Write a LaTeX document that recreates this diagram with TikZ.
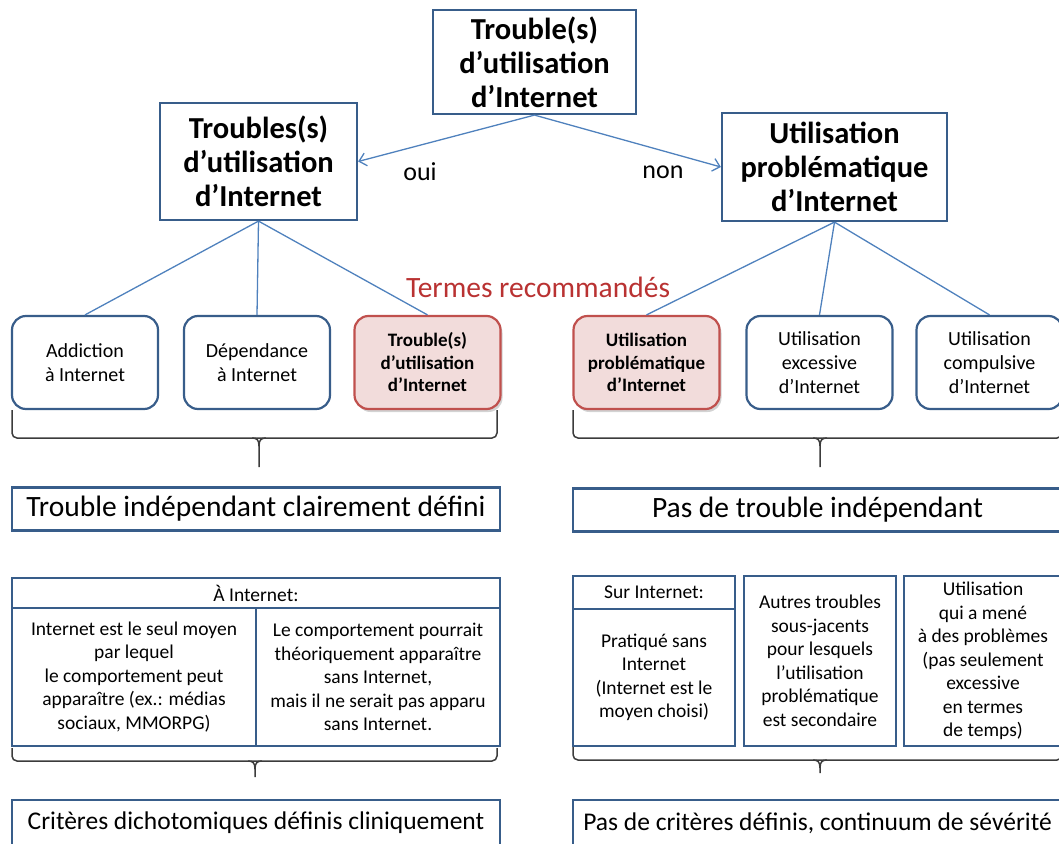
\documentclass[tikz,border=0pt]{standalone}
\usepackage{fontspec}
\setmainfont{Carlito}
\usepackage{tikz}
\usepackage{xcolor}
\usetikzlibrary{positioning, arrows.meta, shadows}

\definecolor{boxblue}{RGB}{56,93,138}
\definecolor{lineblue}{RGB}{79,129,189}
\definecolor{redfill}{RGB}{242,220,219}
\definecolor{redline}{RGB}{192,80,77}
\definecolor{redtext}{RGB}{185,50,50}
\definecolor{bracegray}{RGB}{60,60,60}

% brace: left x, right x, middle x, top y, bar y, tip y
\newcommand{\dbrace}[6]{%
  \draw[brace, rounded corners=5] (#1,#4) -- (#1,#5) -- (#2,#5) -- (#2,#4);
  \draw[brace] (#3-7,#5) .. controls (#3-2,#5) and (#3,#5+2) .. (#3,#5+8) -- (#3,#6);
  \draw[brace] (#3+7,#5) .. controls (#3+2,#5) and (#3,#5+2) .. (#3,#5+8);
}

\begin{document}
\begin{tikzpicture}[x=1pt, y=-1pt,
    headbox/.style={draw=boxblue, line width=2.2pt, align=center, inner sep=0pt,
      font=\fontsize{30.5}{34}\selectfont\bfseries},
    termbox/.style={draw=boxblue, line width=2.2pt, rounded corners=14pt, align=center,
      minimum width=146pt, minimum height=93pt, inner sep=0pt,
      font=\fontsize{20}{24}\selectfont},
    goodterm/.style={termbox, draw=redline, fill=redfill, font=\fontsize{19}{22.5}\selectfont\bfseries,
      drop shadow={opacity=0.35, shadow xshift=2pt, shadow yshift=-3pt}},
    wide/.style={draw=boxblue, line width=2.2pt, align=center, inner sep=0pt,
      minimum height=43pt, font=\fontsize{29.5}{32}\selectfont},
    crit/.style={wide, minimum height=46pt, font=\fontsize{25.5}{30}\selectfont},
    cell/.style={draw=boxblue, line width=2.2pt, align=center, inner sep=0pt,
      font=\fontsize{19.5}{23.5}\selectfont},
    link/.style={draw=lineblue, line width=1.3pt},
    brace/.style={draw=bracegray, line width=1.5pt}]
  \useasboundingbox (0,0) rectangle (1059,843);

  % top of the tree
  \node[headbox, minimum width=203pt, minimum height=104pt] (root) at (534.5,62)
    {Trouble(s)\\d’utilisation\\d’Internet};
  \node[headbox, minimum width=197pt, minimum height=117pt] (tuiL) at (258.5,161.5)
    {Troubles(s)\\d’utilisation\\d’Internet};
  \node[headbox, minimum width=225pt, minimum height=108pt] (upiL) at (834.5,167)
    {Utilisation\\problématique\\d’Internet};

  \draw[link, -{Straight Barb[length=7pt, width=13pt]}] (root.south) -- (tuiL.east);
  \draw[link, -{Straight Barb[length=7pt, width=13pt]}] (root.south) -- (upiL.west);
  \node[font=\fontsize{26}{30}\selectfont] (oui) at (420,172) {oui};
  \node[font=\fontsize{26}{30}\selectfont] (non) at (663,172) {non};

  % terms
  \node[termbox] (addict) at (85,362.5) {Addiction\\à Internet};
  \node[termbox] (depend) at (257,362.5) {Dépendance\\à Internet};
  \node[goodterm] (tuiS) at (427.5,362.5) {Trouble(s)\\d’utilisation\\d’Internet};
  \node[goodterm] (upiS) at (646.5,362.5) {Utilisation\\problématique\\d’Internet};
  \node[termbox] (excess) at (819.5,362.5) {Utilisation\\excessive\\d’Internet};
  \node[termbox] (compul) at (989.5,362.5) {Utilisation\\compulsive\\d’Internet};

  \node[text=redtext, font=\fontsize{29.5}{32}\selectfont] (recom) at (538,287) {Termes recommandés};

  \foreach \t in {addict, depend, tuiS} {
    \draw[link] (tuiL.south) -- (\t.north);
  }
  \foreach \t in {upiS, excess, compul} {
    \draw[link] (upiL.south) -- (\t.north);
  }

  \dbrace{12}{497}{259}{410}{438}{467}
  \dbrace{573}{1062}{820}{410}{438}{467}

  % independent disorder or not
  \node[wide, minimum width=488pt] (indep) at (256,509) {Trouble indépendant clairement défini};
  \node[wide, minimum width=489pt] (noindep) at (817.5,510) {Pas de trouble indépendant};

  % left table
  \node[cell, minimum width=488pt, minimum height=30pt] (ahead) at (256,593) {À Internet:};
  \node[cell, minimum width=244pt, minimum height=138pt] (aonly) at (134,677)
    {Internet est le seul moyen\\par lequel\\le comportement peut\\apparaître (ex.: médias\\sociaux, MMORPG)};
  \node[cell, minimum width=244pt, minimum height=138pt] (awith) at (378,677)
    {Le comportement pourrait\\théoriquement apparaître\\sans Internet,\\mais il ne serait pas apparu\\sans Internet.};

  % right table
  \node[cell, minimum width=162pt, minimum height=33pt] (shead) at (654,592.5) {Sur Internet:};
  \node[cell, minimum width=162pt, minimum height=137pt] (sprac) at (654,677.5)
    {Pratiqué sans\\Internet\\(Internet est le\\moyen choisi)};
  \node[cell, minimum width=152pt, minimum height=170pt] (other) at (820,661)
    {Autres troubles\\sous-jacents\\pour lesquels\\l’utilisation\\problématique\\est secondaire};
  \node[cell, minimum width=158pt, minimum height=170pt] (probl) at (983,661)
    {Utilisation\\qui a mené\\à des problèmes\\(pas seulement\\excessive\\en termes\\de temps)};

  \dbrace{12}{497}{255}{748}{761}{777}
  \dbrace{573}{1062}{820}{747}{760}{773}

  % criteria
  \node[crit, minimum width=488pt] (dicho) at (256,823) {Critères dichotomiques définis cliniquement};
  \node[crit, minimum width=489pt] (contin) at (817.5,823) {Pas de critères définis, continuum de sévérité};
\end{tikzpicture}
\end{document}
